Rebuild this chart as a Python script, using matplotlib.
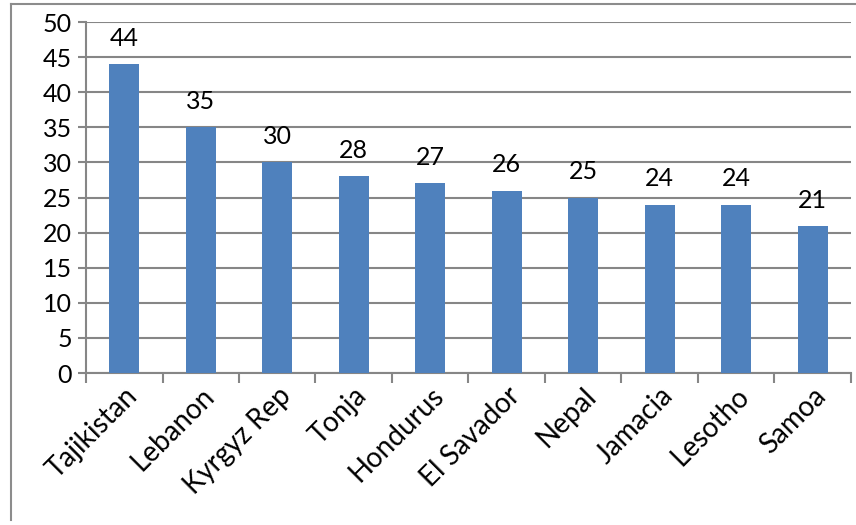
import matplotlib.pyplot as plt
from matplotlib.lines import Line2D

countries = ['Tajikistan', 'Lebanon', 'Kyrgyz Rep', 'Tonja', 'Hondurus',
             'El Savador', 'Nepal', 'Jamacia', 'Lesotho', 'Samoa']
values = [44, 35, 30, 28, 27, 26, 25, 24, 24, 21]
yticks = list(range(0, 51, 5))

plt.rcParams['font.family'] = ['Lato', 'DejaVu Sans']
fs = 18

fig = plt.figure(figsize=(8.56, 5.25), dpi=100)
ax = fig.add_axes([0.1005, 0.2895, 0.8935, 0.6685])

x = range(len(countries))
bars = ax.bar(x, values, width=0.39, color='#4F81BD', zorder=3)

for xi, v in zip(x, values):
    ax.annotate(str(v), (xi, v), xytext=(0, 13), textcoords='offset points',
                ha='center', va='baseline', fontsize=fs)

ax.set_xlim(-0.5, len(countries) - 0.5)
ax.set_ylim(0, 50)
ax.set_yticks(yticks)
ax.yaxis.grid(True, color='#868686', linewidth=1.5, zorder=0)
ax.tick_params(axis='y', length=6, width=1.5, color='#868686',
               labelsize=fs, pad=4)

# category boundaries get the tick marks, names sit at the centres
ax.set_xticks([i - 0.5 for i in range(len(countries) + 1)])
ax.set_xticklabels([])
ax.set_xticks(list(x), minor=True)
ax.set_xticklabels(countries, minor=True, rotation=45, ha='right',
                   rotation_mode='anchor', fontsize=20)
ax.tick_params(axis='x', which='major', length=7, width=1.5, color='#868686')
ax.tick_params(axis='x', which='minor', length=0, pad=7)

for side in ['top', 'right']:
    ax.spines[side].set_visible(False)
for side in ['left', 'bottom']:
    ax.spines[side].set_color('#868686')
    ax.spines[side].set_linewidth(1.5)

# outer chart border (top and left edges)
fig.add_artist(Line2D([11 / 856, 1], [1 - 4 / 525, 1 - 4 / 525],
                      color='#8c8c8c', linewidth=1.5, transform=fig.transFigure))
fig.add_artist(Line2D([11 / 856, 11 / 856], [1 - 4 / 525, 1 - 520 / 525],
                      color='#8c8c8c', linewidth=1.5, transform=fig.transFigure))

fig.savefig('out.png', dpi=100)
